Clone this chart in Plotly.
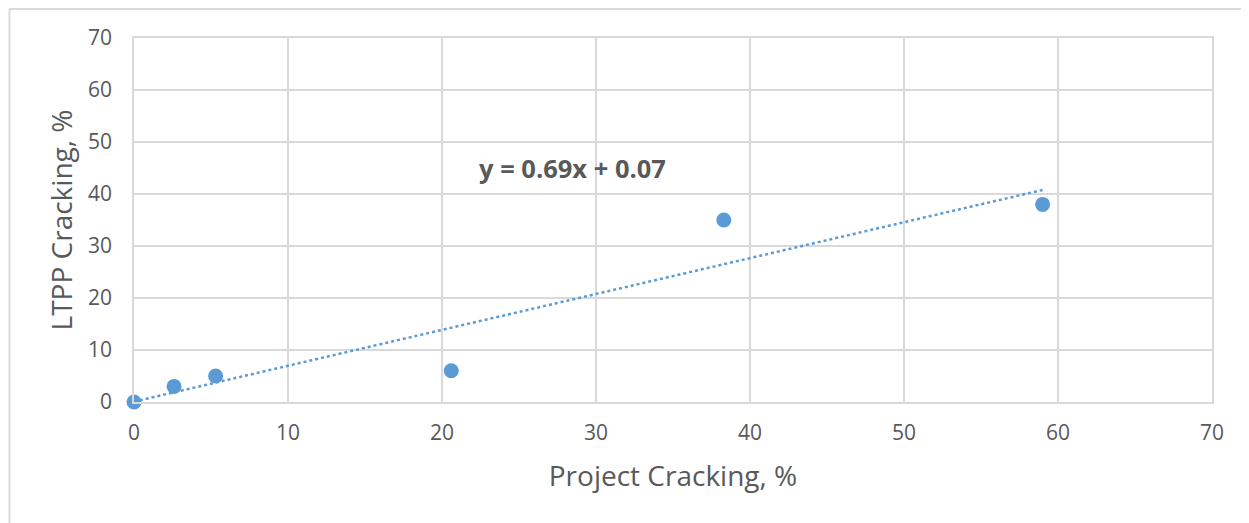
import plotly.graph_objects as go

# data
project_cracking = [0, 2.6, 5.3, 20.6, 38.3, 59.0]
ltpp_cracking = [0, 3, 5, 6, 35, 38]
slope = 0.69
intercept = 0.07
axis_ticks = [0, 10, 20, 30, 40, 50, 60, 70]

blue = '#5b9bd5'
grey_txt = '#595959'
grid = '#d9d9d9'
fnt = 'Open Sans, sans-serif'

trend_x = [min(project_cracking), max(project_cracking)]
trend_y = [slope * v + intercept for v in trend_x]

fig = go.Figure()
fig.add_trace(go.Scatter(x=trend_x, y=trend_y, mode='lines',
                         line=dict(color=blue, width=2.5, dash='dot'),
                         hoverinfo='skip', showlegend=False))
fig.add_trace(go.Scatter(x=project_cracking, y=ltpp_cracking, mode='markers',
                         marker=dict(color=blue, size=15), cliponaxis=False,
                         showlegend=False))

fig.add_annotation(x=28.5, y=45.0, xref='x', yref='y', showarrow=False,
                   text='<b>y = 0.69x + 0.07</b>',
                   font=dict(family=fnt, size=25.5, color=grey_txt))

# outer chart frame (left and top edges visible)
fig.add_shape(type='line', xref='paper', yref='paper',
              x0=-0.1155, x1=-0.1155, y0=1.0797, y1=-0.34,
              line=dict(color=grid, width=2))
fig.add_shape(type='line', xref='paper', yref='paper',
              x0=-0.1155, x1=1.04, y0=1.0797, y1=1.0797,
              line=dict(color=grid, width=2))

xdict = dict(range=[0, 70], tickvals=axis_ticks, showgrid=True, gridcolor=grid,
             gridwidth=1.5, zeroline=False, showline=True, mirror=True,
             linecolor=grid, linewidth=1.5, ticks='', ticklabelstandoff=11,
             tickfont=dict(family=fnt, size=21, color=grey_txt),
             title=dict(text='Project Cracking, %', standoff=21,
                        font=dict(family=fnt, size=28, color=grey_txt)))
ydict = dict(range=[0, 70], tickvals=axis_ticks, showgrid=True, gridcolor=grid,
             gridwidth=1.5, zeroline=False, showline=True, mirror=True,
             linecolor=grid, linewidth=1.5, ticks='', ticklabelstandoff=16,
             tickfont=dict(family=fnt, size=21, color=grey_txt),
             title=dict(text='LTPP Cracking, %', standoff=7,
                        font=dict(family=fnt, size=28, color=grey_txt)))

# page body adds an 8px offset, so the figure is 8px smaller and left/top margins shifted
fig.update_layout(xaxis=xdict, yaxis=ydict,
                  width=1241, height=515, autosize=False,
                  margin=dict(l=126, r=37, t=30, b=121),
                  plot_bgcolor='white', paper_bgcolor='white')

fig.write_html("out.html")
